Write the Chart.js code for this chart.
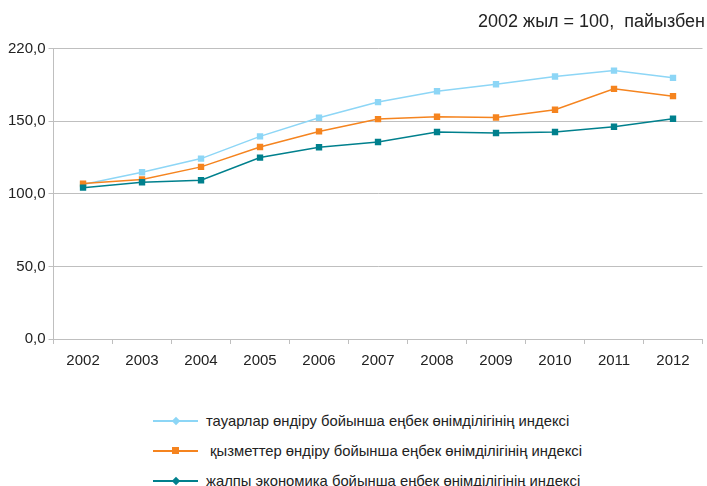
<!DOCTYPE html>
<html>
<head>
<meta charset="utf-8">
<script src="https://cdn.jsdelivr.net/npm/chart.js@4.4.0/dist/chart.umd.min.js"></script>
<style>
body { margin: 0; background: #fff; font-family: "Liberation Sans", Arial, sans-serif; }
#wrap { position: relative; width: 707px; height: 486px; }
#box { position: absolute; left: 0; top: 0; width: 707px; height: 378px; }
#title { position: absolute; right: 2px; top: 11px; font-size: 18px; color: #222; white-space: pre; }
#legend { position: absolute; left: 153px; top: 406px; }
.item { height: 30px; display: flex; align-items: center; font-size: 14.8px; color: #222; }
.sw { position: relative; width: 45px; height: 2px; margin-right: 8px; }
.mk { position: absolute; left: 19px; top: -3px; width: 7px; height: 7px; }
</style>
</head>
<body>
<div id="wrap">
  <div id="box"><canvas id="myChart"></canvas></div>
  <div id="title">2002 жыл = 100,  пайызбен</div>
  <div id="legend"></div>
</div>
<script>
const years = ['2002','2003','2004','2005','2006','2007','2008','2009','2010','2011','2012'];
const yTickLabels = ['0,0','50,0','100,0','150,0','220,0'];

const goods = [106.3, 114.8, 124.2, 139.5, 152.3, 163.1, 170.6, 175.4, 180.7, 184.8, 179.8];
const services = [107.0, 109.8, 118.5, 132.2, 142.9, 151.4, 153.0, 152.5, 157.8, 172.2, 167.2];
const economy = [104.2, 107.9, 109.3, 124.9, 132.0, 135.6, 142.5, 141.8, 142.5, 146.1, 151.6];

const names = [
  'тауарлар өндіру бойынша еңбек өнімділігінің индексі',
  ' қызметтер өндіру бойынша еңбек өнімділігінің индексі',
  'жалпы экономика бойынша еңбек өнімділігінің индексі'
];
const colors = ['#8dd6f6', '#f5841f', '#00808d'];
const legendMarks = ['diamond', 'square', 'diamond'];

window.addEventListener('load', function(){
	let sets = [goods, services, economy];
	let datasets = [];
	for(var i = 0; i < sets.length; i++){
		datasets.push({
			label: names[i],
			data: sets[i],
			borderColor: colors[i],
			backgroundColor: colors[i],
			borderWidth: 1.5,
			pointStyle: 'rect',
			pointRadius: 4.5,
			pointBorderWidth: 0,
			tension: 0
		});
	}
	// goods line drawn at the back
	datasets.reverse();

	new Chart(document.getElementById('myChart'), {
		type: 'line',
		data: { labels: years, datasets: datasets },
		options: {
			responsive: true,
			maintainAspectRatio: false,
			animation: false,
			layout: { padding: { left: 5, right: -4, top: 48.5, bottom: 0 } },
			plugins: {
				legend: { display: false },
				tooltip: { enabled: false },
				title: { display: false }
			},
			scales: {
				x: {
					offset: true,
					grid: { offset: true, drawOnChartArea: false, drawTicks: true, tickLength: 5, color: '#bfbfbf' },
					border: { color: '#bfbfbf' },
					ticks: { color: '#222', padding: 8, font: { family: 'Liberation Sans', size: 15 } }
				},
				y: {
					min: 0,
					max: 200,
					ticks: {
						stepSize: 50,
						color: '#222',
						padding: 3,
						font: { family: 'Liberation Sans', size: 15 },
						callback: function(v, i){ return yTickLabels[i]; }
					},
					grid: { color: '#bfbfbf', tickLength: 5 },
					border: { color: '#bfbfbf' }
				}
			}
		}
	});

	let legendTag = document.getElementById('legend');
	for(var j = 0; j < names.length; j++){
		let mk = legendMarks[j] == 'diamond' ? 'transform: rotate(45deg); width:6px; height:6px; left:20px; top:-2px;' : '';
		legendTag.innerHTML += '<div class="item"><div class="sw" style="background:' + colors[j] + '">' +
			'<div class="mk" style="background:' + colors[j] + ';' + mk + '"></div></div><span>' + names[j].replace(/^ /, '&nbsp;') + '</span></div>';
	}
});
</script>
</body>
</html>
